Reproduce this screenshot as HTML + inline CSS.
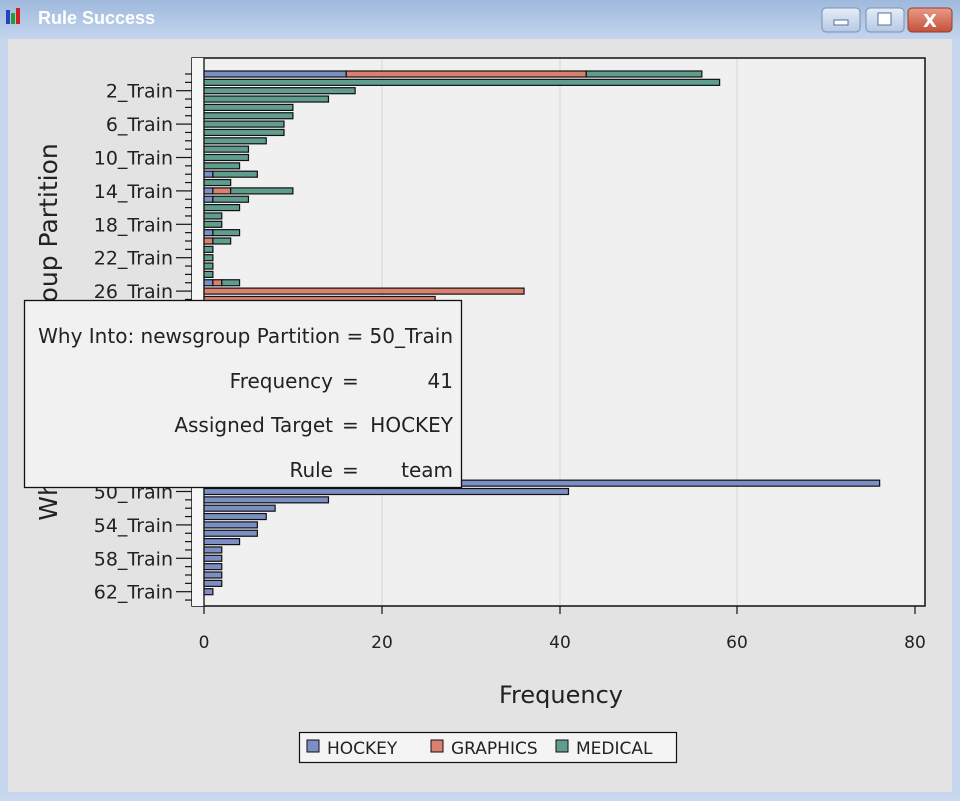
<!DOCTYPE html>
<html><head><meta charset="utf-8"><style>
body{margin:0;width:960px;height:797px;overflow:hidden;background:#c9d8ec;font-family:"DejaVu Sans","Liberation Sans",sans-serif}
</style></head><body>
<svg width="960" height="797" xmlns="http://www.w3.org/2000/svg" font-family="DejaVu Sans, Liberation Sans, sans-serif">
<defs>
<linearGradient id="tb" x1="0" y1="0" x2="0" y2="1"><stop offset="0" stop-color="#9fb9dc"/><stop offset="1" stop-color="#c4d6ee"/></linearGradient>
<linearGradient id="cl" x1="0" y1="0" x2="0" y2="1"><stop offset="0" stop-color="#e89a88"/><stop offset="1" stop-color="#c4503a"/></linearGradient>
<linearGradient id="bt" x1="0" y1="0" x2="0" y2="1"><stop offset="0" stop-color="#e6eef8"/><stop offset="1" stop-color="#b4c8e4"/></linearGradient>
</defs>
<rect width="960" height="797" fill="#c6d6ec"/>
<rect width="960" height="40" fill="url(#tb)"/>
<rect x="6" y="10" width="4" height="14" fill="#2a40c0"/><rect x="11" y="13" width="4" height="11" fill="#20a030"/><rect x="16" y="8" width="4" height="16" fill="#d02020"/>
<text x="38" y="24" font-size="18" font-weight="bold" fill="#ffffff" font-family="Liberation Sans, sans-serif">Rule Success</text>
<rect x="822" y="8" width="38" height="24" rx="4" fill="url(#bt)" stroke="#7890b0"/><rect x="834" y="20" width="14" height="5" fill="#fff" stroke="#5070a0"/>
<rect x="866" y="8" width="38" height="24" rx="4" fill="url(#bt)" stroke="#7890b0"/><rect x="878" y="13" width="13" height="12" fill="#fff" stroke="#5070a0"/>
<rect x="908" y="8" width="44" height="24" rx="4" fill="url(#cl)" stroke="#904030"/><text x="930" y="27" font-size="18" font-weight="bold" fill="#fff" text-anchor="middle">X</text>
<rect x="8" y="39" width="944" height="753" fill="#e3e3e3"/>
<rect x="192" y="58" width="733" height="548" fill="#f0f0f0" stroke="#111" stroke-width="1.5"/>
<rect x="192" y="58" width="12" height="548" fill="#f6f6f6"/>
<line x1="204" y1="58" x2="204" y2="606" stroke="#111" stroke-width="1.3"/>
<g stroke="#d6d6d6" stroke-width="1"><line x1="382" y1="59" x2="382" y2="605"/><line x1="560" y1="59" x2="560" y2="605"/><line x1="737" y1="59" x2="737" y2="605"/></g>
<g stroke="#111" stroke-width="1.2">
<line x1="204" y1="606" x2="204" y2="614"/><line x1="382" y1="606" x2="382" y2="614"/><line x1="560" y1="606" x2="560" y2="614"/><line x1="737" y1="606" x2="737" y2="614"/><line x1="915" y1="606" x2="915" y2="614"/>
</g>
<g font-size="17" fill="#222" text-anchor="middle"><text x="204" y="648">0</text><text x="382" y="648">20</text><text x="560" y="648">40</text><text x="737" y="648">60</text><text x="915" y="648">80</text></g>
<text x="561" y="703" font-size="24" fill="#222" text-anchor="middle">Frequency</text>
<g id="yt" stroke="#111" stroke-width="1.2"></g>
<g id="yl" font-size="19" fill="#222" text-anchor="end"></g>
<g id="bars" stroke="#111" stroke-width="1.2"></g>
<text transform="translate(57,332) rotate(-90)" font-size="25" fill="#222" text-anchor="middle">Why Into: newsgroup Partition</text>
<rect x="24.5" y="300.5" width="437" height="187" fill="#f1f1f1" stroke="#111" stroke-width="1.3"/>
<g font-size="20" fill="#222">
<text x="453" y="343" text-anchor="end">Why Into: newsgroup Partition = 50_Train</text>
<text x="333" y="388" text-anchor="end">Frequency</text><text x="342" y="388">=</text><text x="453" y="388" text-anchor="end">41</text>
<text x="333" y="432" text-anchor="end">Assigned Target</text><text x="342" y="432">=</text><text x="453" y="432" text-anchor="end">HOCKEY</text>
<text x="333" y="477" text-anchor="end">Rule</text><text x="342" y="477">=</text><text x="453" y="477" text-anchor="end">team</text>
</g>
<rect x="299.5" y="732.5" width="377" height="30" fill="#f4f4f4" stroke="#111" stroke-width="1.2"/>
<g font-size="17" fill="#222">
<rect x="307" y="740" width="12" height="12" fill="#7b8fc4" stroke="#111"/><text x="327" y="754">HOCKEY</text>
<rect x="431" y="740" width="12" height="12" fill="#d98070" stroke="#111"/><text x="451" y="754">GRAPHICS</text>
<rect x="556" y="740" width="12" height="12" fill="#5f9e8e" stroke="#111"/><text x="576" y="754">MEDICAL</text>
</g>
</svg>
<script>
(function(){
var NS="http://www.w3.org/2000/svg";
function el(p,t,a){var e=document.createElementNS(NS,t);for(var k in a)e.setAttribute(k,a[k]);p.appendChild(e);return e;}
var yt=document.getElementById('yt'),yl=document.getElementById('yl'),bars=document.getElementById('bars');
function cy(k){return 74+8.35*k;}
for(var k=0;k<=63;k++){var c=cy(k);var major=(k>=2&&(k-2)%4==0&&k<=62);
 el(yt,'line',{x1:major?176:185,y1:c,x2:192,y2:c});
 if(major){var t=el(yl,'text',{x:173,y:c+7});t.textContent=k+'_Train';}}
var C={H:'#7b8fc4',G:'#d98070',M:'#5f9e8e'};
var D={0:[['H',16],['G',27],['M',13]],1:[['M',58]],2:[['M',17]],3:[['M',14]],4:[['M',10]],5:[['M',10]],6:[['M',9]],7:[['M',9]],8:[['M',7]],9:[['M',5]],10:[['M',5]],11:[['M',4]],12:[['H',1],['M',5]],13:[['M',3]],14:[['H',1],['G',2],['M',7]],15:[['H',1],['M',4]],16:[['M',4]],17:[['M',2]],18:[['M',2]],19:[['H',1],['M',3]],20:[['G',1],['M',2]],21:[['M',1]],22:[['M',1]],23:[['M',1]],24:[['M',1]],25:[['H',1],['G',1],['M',2]],26:[['G',36]],27:[['G',26]],
49:[['H',76]],50:[['H',41]],51:[['H',14]],52:[['H',8]],53:[['H',7]],54:[['H',6]],55:[['H',6]],56:[['H',4]],57:[['H',2]],58:[['H',2]],59:[['H',2]],60:[['H',2]],61:[['H',2]],62:[['H',1]]};
for(var r in D){var cum=0;D[r].forEach(function(s){var x=204+8.89*cum;var w=8.89*s[1];el(bars,'rect',{x:x,y:cy(+r)-3,width:w,height:6,fill:C[s[0]]});cum+=s[1];});}
})();
</script>
</body></html>
